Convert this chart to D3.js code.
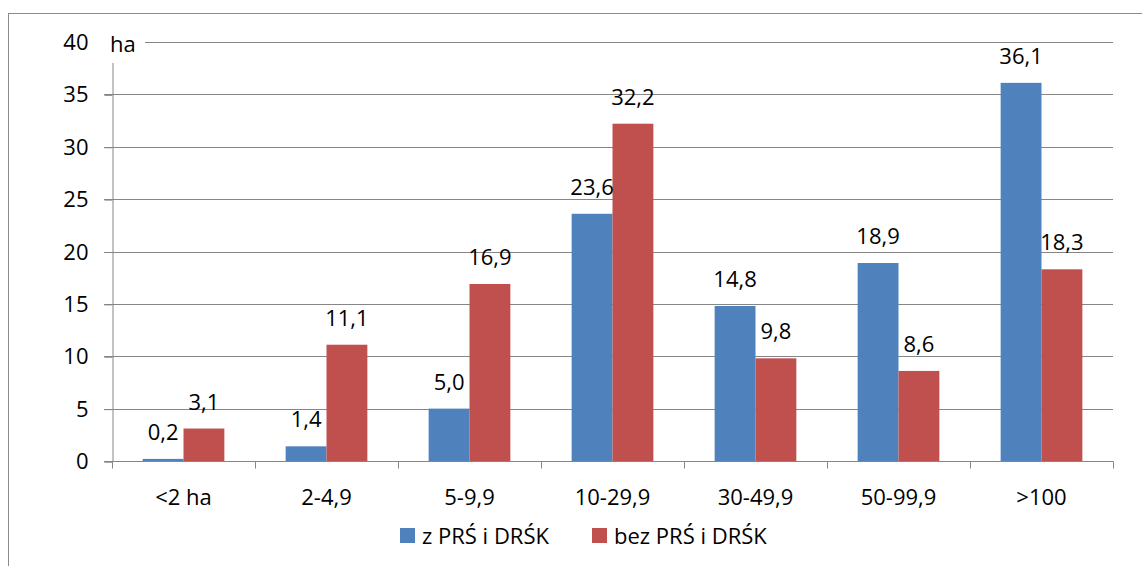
<!DOCTYPE html>
<html>
<head>
<meta charset="utf-8">
<script src="https://cdn.jsdelivr.net/npm/d3@7"></script>
<style>
  html, body { margin: 0; padding: 0; background: #fff; }
  svg { display: block; }
  text { font-family: "Open Sans", "Liberation Sans", sans-serif; fill: #000; }
</style>
</head>
<body>
<svg id="chart" width="1142" height="566"></svg>
<script>
// Farm size groups (ha) and the share for each group of farms
const categories = ["<2 ha", "2-4,9", "5-9,9", "10-29,9", "30-49,9", "50-99,9", ">100"];
const seriesNames = ["z PRŚ i DRŚK", "bez PRŚ i DRŚK"];
const withValues = [0.2, 1.4, 5.0, 23.6, 14.8, 18.9, 36.1];
const withoutValues = [3.1, 11.1, 16.9, 32.2, 9.8, 8.6, 18.3];
const yTicks = [0, 5, 10, 15, 20, 25, 30, 35, 40];
const colors = ["#4F81BD", "#C0504D"];

const svg = d3.select("#chart");
const gridColor = "#868686";
const fontSize = "22px";

// outer frame
svg.append("rect")
  .attr("x", 8.5).attr("y", 13.5)
  .attr("width", 1160).attr("height", 600)
  .attr("fill", "none").attr("stroke", "#8c8c8c").attr("stroke-width", 1);

const x = d3.scaleBand().domain(categories).range([112, 1113]).paddingInner(0).paddingOuter(0);
const xs = d3.scaleBand().domain(seriesNames).range([0, x.bandwidth()]).paddingInner(0).paddingOuter(0.75);
const y = d3.scaleLinear().domain([0, 40]).range([461, 42]);

const fmt = v => d3.format(".1f")(v).replace(".", ",");

// horizontal gridlines
svg.append("g").selectAll("line").data(yTicks.filter(t => t > 0)).join("line")
  .attr("x1", 104).attr("x2", 1113)
  .attr("y1", d => Math.round(y(d)) + 0.5).attr("y2", d => Math.round(y(d)) + 0.5)
  .attr("stroke", gridColor).attr("stroke-width", 1);

// y axis
const yAxis = d3.axisLeft(y).tickValues(yTicks).tickSize(8).tickPadding(16).tickFormat(d => d);
const gy = svg.append("g").attr("transform", "translate(112.5,0.5)").call(yAxis);
gy.select(".domain").attr("stroke", gridColor);
gy.selectAll(".tick line").attr("stroke", gridColor);
gy.selectAll(".tick text").style("font-size", fontSize).attr("fill", "#000")
  .attr("font-family", "'Open Sans', 'Liberation Sans', sans-serif");

// axis title "ha" with a white box behind it
svg.append("rect").attr("x", 104).attr("y", 28).attr("width", 41).attr("height", 35).attr("fill", "#fff");
svg.append("text").attr("x", 110).attr("y", 52).style("font-size", fontSize).text("ha");

// bars
const data = categories.map((c, i) => ({ cat: c, vals: [withValues[i], withoutValues[i]] }));
const groups = svg.append("g").selectAll("g").data(data).join("g")
  .attr("transform", d => `translate(${x(d.cat)},0)`);

groups.selectAll("rect").data(d => d.vals.map((v, j) => ({ v, s: seriesNames[j], j }))).join("rect")
  .attr("x", d => xs(d.s))
  .attr("width", xs.bandwidth())
  .attr("y", d => y(d.v))
  .attr("height", d => y(0) - y(d.v))
  .attr("fill", d => colors[d.j]);

groups.selectAll("text").data(d => d.vals.map((v, j) => ({ v, s: seriesNames[j], j }))).join("text")
  .attr("x", d => xs(d.s) + xs.bandwidth() / 2)
  .attr("y", d => y(d.v) - 19)
  .attr("text-anchor", "middle")
  .style("font-size", fontSize)
  .text(d => fmt(d.v));

// x axis
const xAxis = d3.axisBottom(x).tickSize(0).tickPadding(0).tickFormat(() => "");
const gx = svg.append("g").attr("transform", "translate(0,461.5)").call(xAxis);
gx.select(".domain").remove();
gx.append("line").attr("x1", 104).attr("x2", 1113.5).attr("stroke", gridColor);
const bounds = categories.map(c => x(c)).concat([x.range()[1]]);
gx.selectAll(".bound").data(bounds).join("line").attr("class", "bound")
  .attr("x1", d => Math.round(d) + 0.5).attr("x2", d => Math.round(d) + 0.5)
  .attr("y1", 0).attr("y2", 7).attr("stroke", gridColor);
gx.selectAll(".catlabel").data(categories).join("text").attr("class", "catlabel")
  .attr("x", d => x(d) + x.bandwidth() / 2).attr("y", 43)
  .attr("text-anchor", "middle").style("font-size", fontSize).text(d => d);

// legend
const legendX = [400, 592];
const legend = svg.append("g").selectAll("g").data(seriesNames).join("g")
  .attr("transform", (d, i) => `translate(${legendX[i]},528)`);
legend.append("rect").attr("width", 15).attr("height", 15).attr("fill", (d, i) => colors[i]);
legend.append("text").attr("x", 22).attr("y", 16).style("font-size", fontSize).text(d => d);
</script>
</body>
</html>
